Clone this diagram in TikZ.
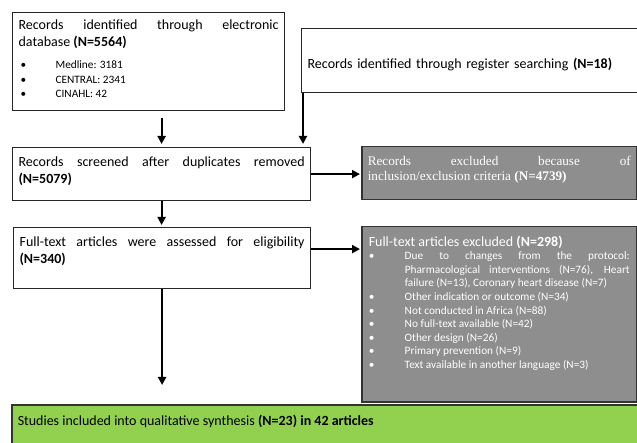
\documentclass[tikz,border=0pt]{standalone}
\usepackage{fontspec}
\setmainfont{Carlito}
\newfontfamily\serifbox{Liberation Serif}
\usepackage{xcolor}
\usetikzlibrary{arrows.meta, positioning, calc}
\definecolor{exclgray}{RGB}{142,142,142}
\definecolor{inclgreen}{RGB}{146,208,80}
\hyphenpenalty=10000
\exhyphenpenalty=10000
\tolerance=10000
\newcommand{\bulline}[1]{\par\hangindent=36pt\hangafter=1\noindent\makebox[36pt][l]{\textbullet}#1}

\begin{document}
\begin{tikzpicture}[x=1pt, y=-1pt,
    whitebox/.style={draw=black!85, line width=1.2pt, anchor=north west, inner xsep=6pt, inner ysep=9pt, font=\fontsize{14pt}{17pt}\selectfont},
    greybox/.style={whitebox, draw=black!80, line width=1.5pt, fill=exclgray, text=white},
    greenbox/.style={whitebox, draw=black!80, line width=1.5pt, fill=inclgreen},
    flowarrow/.style={-{Triangle[width=8pt,length=8pt]}, line width=2pt}]
  \useasboundingbox (0,0) rectangle (637,443);

  % identification
  \node[whitebox, inner ysep=7pt] (db) at (12,12) {\parbox[t][84pt][t]{260pt}{Records identified through electronic database \textbf{(N=5564)}\par
    \vspace{8pt}
    {\fontsize{11.3pt}{14.5pt}\selectfont
    \hspace*{2pt}\makebox[35pt][l]{\textbullet}Medline: 3181\par
    \hspace*{2pt}\makebox[35pt][l]{\textbullet}CENTRAL: 2341\par
    \hspace*{2pt}\makebox[35pt][l]{\textbullet}CINAHL: 42\par}}};
  \node[whitebox, minimum height=64pt, text width=350pt, text height=15pt, text depth=0pt, align=left] (reg) at (301,28) {Records identified through register searching \textbf{(N=18)}};

  % screening
  \node[whitebox] (scr) at (12,147) {\parbox[t][35pt][t]{286pt}{Records screened after duplicates removed \textbf{(N=5079)}}};
  \node[greybox] (excl1) at (361,146) {\parbox[t][35pt][t]{263pt}{\serifbox\fontsize{13.2pt}{15.5pt}\selectfont Records excluded because of\linebreak inclusion/exclusion criteria \textbf{(N=4739)}}};

  % eligibility
  \node[whitebox] (full) at (13,227) {\parbox[t][43pt][t]{285pt}{Full-text articles were assessed for eligibility \textbf{(N=340)}}};
  \node[greybox, inner xsep=7pt] (excl2) at (361,226) {\parbox[t][157pt][t]{261pt}{Full-text articles excluded \textbf{(N=298)}\par
    {\fontsize{11.3pt}{13.6pt}\selectfont
    \bulline{Due to changes from the protocol: Pharmacological interventions (N=76), Heart failure (N=13), Coronary heart disease (N=7)}
    \bulline{Other indication or outcome (N=34)}
    \bulline{Not conducted in Africa (N=88)}
    \bulline{No full-text available (N=42)}
    \bulline{Other design (N=26)}
    \bulline{Primary prevention (N=9)}
    \bulline{Text available in another language (N=3)}\par}}};

  % included
  \node[greenbox, inner ysep=10pt] (incl) at (11,404) {\parbox[t][50pt][t]{650pt}{Studies included into qualitative synthesis \textbf{(N=23) in 42 articles}}};

  \draw[flowarrow, shorten <=7pt, shorten >=3pt] (db.south -| scr.north) -- (scr.north);
  \draw[flowarrow, shorten >=3pt] ([xshift=2pt]reg.south west) -- ([xshift=2pt]reg.south west |- scr.north);
  \draw[flowarrow, shorten >=1pt] (scr.east) -- (scr.east -| excl1.west);
  \draw[flowarrow, shorten >=2pt] (scr.south) -- (scr.south |- full.north);
  \draw[flowarrow, shorten >=1pt] ([yshift=9pt]full.east) -- ([yshift=9pt]full.east -| excl2.west);
  \draw[flowarrow, shorten >=19pt] (full.south) -- (full.south |- incl.north);
\end{tikzpicture}
\end{document}
